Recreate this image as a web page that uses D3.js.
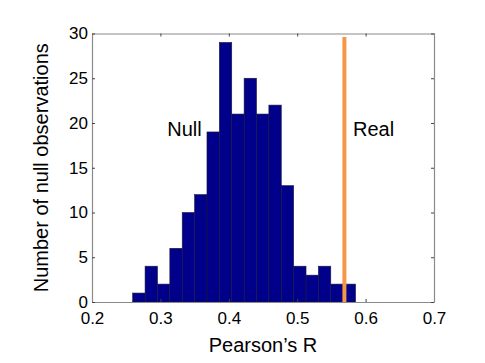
<!DOCTYPE html>
<html>
<head>
<meta charset="utf-8">
<script src="https://cdn.jsdelivr.net/npm/d3@7"></script>
<style>
body{margin:0;background:#fff}
text{font-family:"Liberation Sans",Arial,sans-serif}
</style>
</head>
<body>
<svg id="svg1" width="485" height="363"></svg>
<script>
// histogram of null correlations (bin edges + counts)
var binEdges=[0.2595,0.2776,0.2957,0.3138,0.3319,0.3500,0.3681,0.3862,0.4043,0.4224,
  0.4405,0.4586,0.4767,0.4948,0.5129,0.5310,0.5491,0.5672,0.5853]
var counts=[1,4,2,6,10,12,19,29,21,25,21,22,13,4,3,4,2,2]
var realR=0.569
var xTicks=[0.2,0.3,0.4,0.5,0.6,0.7]
var yTicks=[0,5,10,15,20,25,30]

var svg=d3.select("#svg1")
var pLeft=92,pRight=434,pTop=33.5,pBottom=302

var x=d3.scaleLinear().domain([0.2,0.7]).range([pLeft,pRight])
var y=d3.scaleLinear().domain([0,30]).range([pBottom,pTop])

var bars=counts.map(function(c,i){return {x0:binEdges[i],x1:binEdges[i+1],n:c}})

svg.selectAll("rect.bar").data(bars).enter().append("rect")
  .attr("class","bar")
  .attr("x",function(d){return x(d.x0)})
  .attr("width",function(d){return x(d.x1)-x(d.x0)})
  .attr("y",function(d){return y(d.n)})
  .attr("height",function(d){return y(0)-y(d.n)})
  .attr("fill","#00008b")
  .attr("stroke","#1a1a3a")
  .attr("stroke-width",0.6)

// the real value
svg.append("line")
  .attr("x1",x(realR)).attr("x2",x(realR))
  .attr("y1",y(29.6)).attr("y2",y(0))
  .attr("stroke","#f79646")
  .attr("stroke-width",4)

// axes, matlab style box with inward ticks
var tl=3
var gx=svg.append("g").attr("transform","translate(0,"+pBottom+")")
  .call(d3.axisBottom(x).tickValues(xTicks).tickSizeInner(-tl).tickSizeOuter(0).tickPadding(5).tickFormat(d3.format(".1f")))
var gxt=svg.append("g").attr("transform","translate(0,"+pTop+")")
  .call(d3.axisTop(x).tickValues(xTicks).tickSizeInner(-tl).tickSizeOuter(0).tickFormat(""))
var gy=svg.append("g").attr("transform","translate("+pLeft+",0)")
  .call(d3.axisLeft(y).tickValues(yTicks).tickSizeInner(-tl).tickSizeOuter(0).tickPadding(4))
var gyr=svg.append("g").attr("transform","translate("+pRight+",0)")
  .call(d3.axisRight(y).tickValues(yTicks).tickSizeInner(-tl).tickSizeOuter(0).tickFormat(""))

;[gx,gxt,gy,gyr].forEach(function(g){
  g.select(".domain").attr("stroke","#8a8a8a").attr("stroke-width",1.2)
  g.selectAll(".tick line").attr("stroke","#444")
  g.selectAll(".tick text").attr("fill","#000").style("font-size","17px")
    .style("font-family","'Liberation Sans',Arial,sans-serif")
})
gx.selectAll(".tick text").attr("dy","1.0em")

svg.append("text").attr("x",(pLeft+pRight)/2).attr("y",352)
  .attr("text-anchor","middle").style("font-size","20px").text("Pearson\u2019s R")
svg.append("text").attr("transform","translate(48,"+((pTop+pBottom)/2)+") rotate(-90)")
  .attr("text-anchor","middle").style("font-size","20px").text("Number of null observations")

svg.append("text").attr("x",x(0.31)).attr("y",y(18.6)).style("font-size","20px").text("Null")
svg.append("text").attr("x",x(0.5815)).attr("y",y(18.5)).style("font-size","20px").text("Real")
</script>
</body>
</html>
